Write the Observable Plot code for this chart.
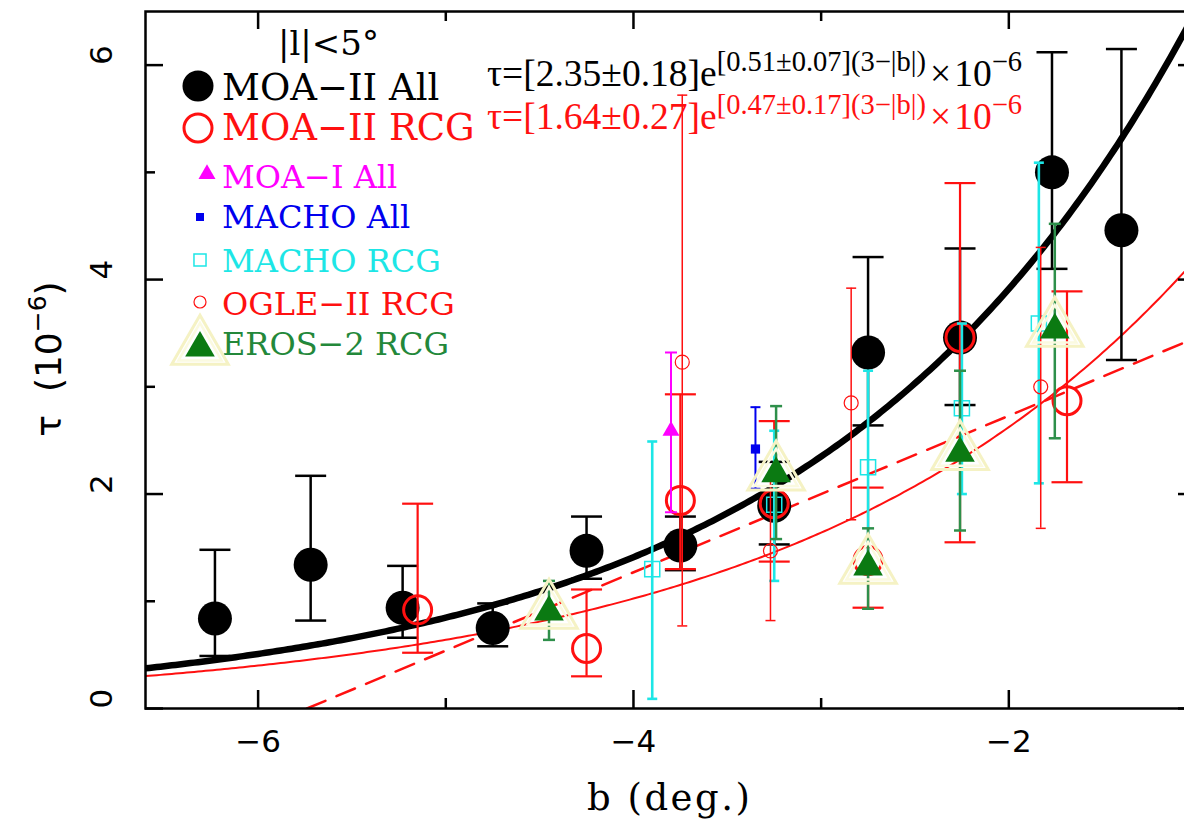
<!DOCTYPE html>
<html>
<head>
<meta charset="utf-8">
<script src="https://cdn.jsdelivr.net/npm/d3@7"></script>
<script src="https://cdn.jsdelivr.net/npm/@observablehq/plot@0.6"></script>
<style>
  html, body { margin: 0; padding: 0; background: #fff; }
  #chart svg { display: block; }
</style>
</head>
<body>
<div id="chart"></div>
<script>
// Microlensing optical depth tau (in units of 1e-6) against Galactic latitude b, for |l| < 5 deg.
// Each row: b (deg), tau, lower end of error bar, upper end of error bar.
const moa2All = [
  {b: -6.23, tau: 0.84, lo: 0.49, hi: 1.48},
  {b: -5.72, tau: 1.34, lo: 0.82, hi: 2.17},
  {b: -5.23, tau: 0.94, lo: 0.66, hi: 1.33},
  {b: -4.75, tau: 0.75, lo: 0.58, hi: 0.98},
  {b: -4.25, tau: 1.47, lo: 1.21, hi: 1.79},
  {b: -3.75, tau: 1.52, lo: 1.29, hi: 1.79},
  {b: -3.25, tau: 1.89, lo: 1.53, hi: 2.30},
  {b: -2.75, tau: 3.32, lo: 2.64, hi: 4.21},
  {b: -2.26, tau: 3.46, lo: 2.83, hi: 4.29},
  {b: -1.77, tau: 5.00, lo: 4.10, hi: 6.12},
  {b: -1.40, tau: 4.46, lo: 3.25, hi: 6.15}
];
const moa2Rcg = [
  {b: -5.15, tau: 0.92, lo: 0.52, hi: 1.91},
  {b: -4.25, tau: 0.56, lo: 0.30, hi: 1.11},
  {b: -3.75, tau: 1.94, lo: 1.30, hi: 2.93},
  {b: -3.25, tau: 1.91, lo: 1.37, hi: 2.68},
  {b: -2.75, tau: 1.38, lo: 0.94, hi: 2.06},
  {b: -2.26, tau: 3.46, lo: 1.55, hi: 4.90},
  {b: -1.69, tau: 2.87, lo: 2.11, hi: 3.89}
];
const moa1All = [
  {b: -3.80, tau: 2.59, lo: 1.83, hi: 3.32}
];
const machoAll = [
  {b: -3.35, tau: 2.42, lo: 2.05, hi: 2.81}
];
const machoRcg = [
  {b: -3.90, tau: 1.30, lo: 0.09, hi: 2.49},
  {b: -3.25, tau: 1.90, lo: 1.19, hi: 2.59},
  {b: -2.75, tau: 2.25, lo: 1.35, hi: 3.15},
  {b: -2.25, tau: 2.80, lo: 2.00, hi: 3.59},
  {b: -1.84, tau: 3.59, lo: 2.10, hi: 5.09}
];
const ogle2Rcg = [
  {b: -3.74, tau: 3.23, lo: 0.77, hi: 5.72},
  {b: -3.27, tau: 1.47, lo: 0.82, hi: 2.12},
  {b: -2.84, tau: 2.85, lo: 1.76, hi: 3.92},
  {b: -1.83, tau: 3.00, lo: 1.68, hi: 4.30}
];
const eros2Rcg = [
  {b: -4.45, tau: 0.90, lo: 0.64, hi: 1.19},
  {b: -3.24, tau: 2.19, lo: 1.58, hi: 2.82},
  {b: -2.75, tau: 1.32, lo: 0.93, hi: 1.68},
  {b: -2.26, tau: 2.38, lo: 1.66, hi: 3.15},
  {b: -1.755, tau: 3.53, lo: 2.52, hi: 4.52}
];

// Fits: tau = A * exp(k * (3 - |b|)), and a straight-line fit tau = c + m * (b + 3)
const fitAll = {A: 2.35, k: 0.51};
const fitRcg = {A: 1.64, k: 0.47};
const fitLinear = {c: 2.0, m: 0.73};

// Axis ticks
const xMajor = [-6, -4, -2];
const xMinor = [-5, -3];
const yMajor = [0, 2, 4, 6];
const yMinor = [1, 3, 5];

const xDomain = [-6.6, -1.0];
const yDomain = [0, 6.5];

// Plot geometry
const W = 1184, H = 822;
const mLeft = 145, mRight = -12, mTop = 11, mBottom = 114;
const frameW = W - mLeft - mRight;
const frameH = H - mTop - mBottom;

// Curves evaluated across the plotted latitude range
const bGrid = d3.range(xDomain[0], xDomain[1] + 1e-9, 0.02);
const expCurve = (f) => bGrid.map(b => ({b, tau: f.A * Math.exp(f.k * (3 - Math.abs(b)))}));
const bZero = -3 - fitLinear.c / fitLinear.m;
const linCurve = [bZero, xDomain[1]].map(b => ({b, tau: fitLinear.c + fitLinear.m * (b + 3)}));

// A horizontal error-bar cap drawn as a dot symbol
const capSymbol = {
  draw(ctx, size) {
    const r = Math.sqrt(size / Math.PI);
    ctx.moveTo(-r, 0);
    ctx.lineTo(r, 0);
  }
};

const RED = "#ff1010", MAGENTA = "#ff00ff", BLUE = "#0000ee", CYAN = "#1de6e6",
      GREEN = "#0b7a12", GREEN_BAR = "#2e8f4a", HALO = "#f5f2c4", HALO2 = "#fbfae0";

function errorBars(data, color, width, capR) {
  return [
    Plot.ruleX(data, {x: "b", y1: "lo", y2: "hi", stroke: color, strokeWidth: width}),
    Plot.dot(data, {x: "b", y: "hi", symbol: capSymbol, r: capR, fill: "none", stroke: color, strokeWidth: width}),
    Plot.dot(data, {x: "b", y: "lo", symbol: capSymbol, r: capR, fill: "none", stroke: color, strokeWidth: width})
  ];
}

// Inward ticks on all four sides of the box
function xTicks(values, len) {
  const s = {stroke: "black", strokeWidth: 2.5};
  return [
    Plot.tickX(values, {x: d => d, insetTop: frameH - len, ...s}),
    Plot.tickX(values, {x: d => d, insetBottom: frameH - len, ...s})
  ];
}
function yTicks(values, len) {
  const s = {stroke: "black", strokeWidth: 2.5};
  return [
    Plot.tickY(values, {y: d => d, insetRight: frameW - len, ...s}),
    Plot.tickY(values, {y: d => d, insetLeft: frameW - len, ...s})
  ];
}

const tickFont = "DejaVu Sans";

const chart = Plot.plot({
  width: W,
  height: H,
  marginLeft: mLeft,
  marginRight: mRight,
  marginTop: mTop,
  marginBottom: mBottom,
  x: {domain: xDomain, axis: null},
  y: {domain: yDomain, axis: null},
  style: {background: "white", overflow: "hidden"},
  marks: [
    // fitted curves
    Plot.line(linCurve, {x: "b", y: "tau", stroke: RED, strokeWidth: 2.5, strokeDasharray: "20,12", clip: true}),
    Plot.line(expCurve(fitRcg), {x: "b", y: "tau", stroke: RED, strokeWidth: 2, clip: true}),
    Plot.line(expCurve(fitAll), {x: "b", y: "tau", stroke: "black", strokeWidth: 6.5, clip: true}),

    // MOA-II All
    ...errorBars(moa2All, "black", 2.5, 15.5),
    Plot.dot(moa2All, {x: "b", y: "tau", r: 17, fill: "black"}),

    // MOA-II RCG
    ...errorBars(moa2Rcg, RED, 2.2, 15.5),
    Plot.dot(moa2Rcg, {x: "b", y: "tau", r: 14, fill: "none", stroke: RED, strokeWidth: 3}),

    // MOA-I All
    ...errorBars(moa1All, MAGENTA, 2, 6),
    Plot.dot(moa1All, {x: "b", y: "tau", symbol: "triangle", r: 6.3, fill: MAGENTA}),

    // MACHO All
    ...errorBars(machoAll, BLUE, 2, 5),
    Plot.dot(machoAll, {x: "b", y: "tau", symbol: "square", r: 5.2, fill: BLUE}),

    // MACHO RCG
    ...errorBars(machoRcg, CYAN, 2.6, 5),
    Plot.dot(machoRcg, {x: "b", y: "tau", symbol: "square", r: 8.5, fill: "none", stroke: CYAN, strokeWidth: 1.5}),

    // OGLE-II RCG
    ...errorBars(ogle2Rcg, RED, 1.5, 5),
    Plot.dot(ogle2Rcg, {x: "b", y: "tau", r: 7, fill: "none", stroke: RED, strokeWidth: 1.2}),

    // EROS-2 RCG (triangles with a pale halo)
    ...errorBars(eros2Rcg, GREEN_BAR, 2.5, 6),
    Plot.dot(eros2Rcg, {x: "b", y: "tau", symbol: "triangle", r: 21, fill: "none", stroke: HALO, strokeWidth: 3}),
    Plot.dot(eros2Rcg, {x: "b", y: "tau", symbol: "triangle", r: 16, fill: "none", stroke: HALO2, strokeWidth: 2.5}),
    Plot.dot(eros2Rcg, {x: "b", y: "tau", symbol: "triangle", r: 11, fill: GREEN}),

    // box and ticks
    Plot.frame({stroke: "black", strokeWidth: 2.5}),
    ...xTicks(xMajor, 18),
    ...xTicks(xMinor, 10),
    ...yTicks(yMajor, 18),
    ...yTicks(yMinor, 10),

    // tick labels
    Plot.text(xMajor, {x: d => d, text: d => (d < 0 ? "\u2212" + Math.abs(d) : String(d)),
      frameAnchor: "bottom", dy: 43, fontSize: 31, fontFamily: tickFont, fill: "black"}),
    Plot.text(yMajor, {y: d => d, text: d => String(d), frameAnchor: "left", dx: -43,
      rotate: -90, fontSize: 31, fontFamily: tickFont, fill: "black"})
  ]
});

document.getElementById("chart").appendChild(chart);

// Axis titles, legend and fit equations
const svg = d3.select(chart);
const serif = "DejaVu Serif";
const eqFont = "Liberation Serif";

svg.append("text")
  .attr("x", 587).attr("y", 810)
  .attr("text-anchor", "start")
  .attr("font-family", serif).attr("font-size", 37).attr("letter-spacing", 2.5)
  .attr("fill", "black")
  .text("b (deg.)");

const yTitle = svg.append("text")
  .attr("transform", "translate(61,359) rotate(-90)")
  .attr("text-anchor", "middle")
  .attr("font-family", tickFont).attr("font-size", 36)
  .attr("fill", "black");
yTitle.append("tspan").text("\u03c4  (10");
yTitle.append("tspan").attr("font-size", 25).attr("dy", -15).text("\u22126");
yTitle.append("tspan").attr("dy", 15).text(")");

const legend = svg.append("g").attr("text-anchor", "start");
legend.append("text")
  .attr("x", 278).attr("y", 55)
  .attr("font-family", serif).attr("font-size", 34).attr("fill", "black")
  .text("|l|<5\u00b0");

const legendRows = [
  {label: "MOA\u2212II All", color: "black", size: 37, y: 100},
  {label: "MOA\u2212II RCG", color: RED, size: 37, y: 140},
  {label: "MOA\u2212I All", color: MAGENTA, size: 32, y: 188},
  {label: "MACHO All", color: BLUE, size: 32, y: 228},
  {label: "MACHO RCG", color: CYAN, size: 32, y: 272},
  {label: "OGLE\u2212II RCG", color: RED, size: 32, y: 315},
  {label: "EROS\u22122 RCG", color: "#23883a", size: 32, y: 355}
];

for (const row of legendRows) {
  legend.append("text")
    .attr("x", 222).attr("y", row.y)
    .attr("font-family", serif).attr("font-size", row.size)
    .attr("fill", row.color)
    .text(row.label);
}

const tri = (r) => d3.symbol(d3.symbolTriangle, Math.PI * r * r)();
const sq = (r) => d3.symbol(d3.symbolSquare, Math.PI * r * r)();

legend.append("circle").attr("cx", 198).attr("cy", 86).attr("r", 15.5).attr("fill", "black");
legend.append("circle").attr("cx", 198).attr("cy", 128).attr("r", 14).attr("fill", "none")
  .attr("stroke", RED).attr("stroke-width", 3);
legend.append("path").attr("d", tri(6.3)).attr("transform", "translate(207,174)").attr("fill", MAGENTA);
legend.append("path").attr("d", sq(4.5)).attr("transform", "translate(200,217)").attr("fill", BLUE);
legend.append("path").attr("d", sq(6.8)).attr("transform", "translate(200,260)").attr("fill", "none")
  .attr("stroke", CYAN).attr("stroke-width", 1.5);
legend.append("circle").attr("cx", 200).attr("cy", 302).attr("r", 6).attr("fill", "none")
  .attr("stroke", RED).attr("stroke-width", 1.2);
legend.append("path").attr("d", tri(21)).attr("transform", "translate(200,348)").attr("fill", "none")
  .attr("stroke", HALO).attr("stroke-width", 3);
legend.append("path").attr("d", tri(16)).attr("transform", "translate(200,348)").attr("fill", "none")
  .attr("stroke", HALO2).attr("stroke-width", 2.5);
legend.append("path").attr("d", tri(11)).attr("transform", "translate(200,348)").attr("fill", GREEN);

// fit equations
function equation(y, color, fit, errA, errK) {
  const t = svg.append("text")
    .attr("x", 487).attr("y", y)
    .attr("text-anchor", "start")
    .attr("font-family", eqFont).attr("font-size", 37.5).attr("fill", color);
  t.append("tspan").text(`\u03c4=[${fit.A.toFixed(2)}\u00b1${errA}]e`);
  t.append("tspan").attr("font-size", 28.5).attr("dy", -15)
    .text(`[${fit.k.toFixed(2)}\u00b1${errK}](3\u2212|b|)`);
  t.append("tspan").attr("dy", 15).attr("dx", 4).text("\u00d7");
  t.append("tspan").attr("dx", 3).text("10");
  t.append("tspan").attr("font-size", 28.5).attr("dy", -15).text("\u22126");
}
equation(86, "black", fitAll, "0.18", "0.07");
equation(129, RED, fitRcg, "0.27", "0.17");
</script>
</body>
</html>
